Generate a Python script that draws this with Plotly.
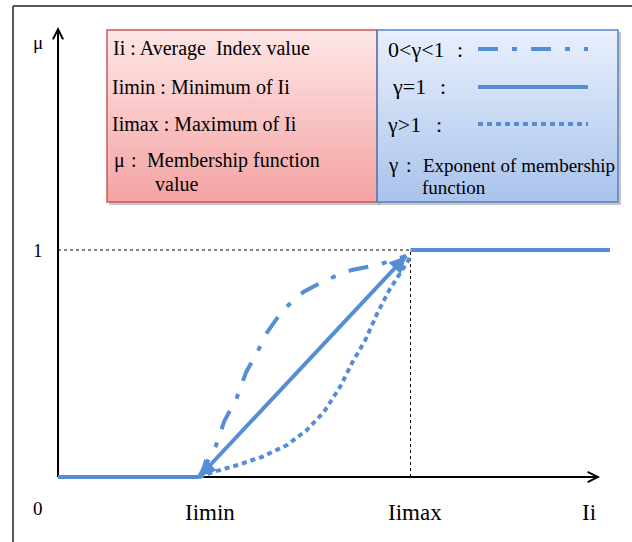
import plotly.graph_objects as go

# ---------------- data ----------------
I_low = [0.0, 2.0]
mu_low = [0.0, 0.0]

I_high = [5.0, 7.83]
mu_high = [1.0, 1.0]

I_linear = [2.0, 4.94]            # gamma = 1
mu_linear = [0.0, 0.974]

I_concave = [2.0, 2.24, 2.36, 2.53, 2.67, 2.82, 2.97, 3.19, 3.48, 3.80, 4.17, 4.53, 4.94]   # 0<gamma<1
mu_concave = [0.0, 0.137, 0.247, 0.344, 0.463, 0.546, 0.639, 0.736, 0.815, 0.868, 0.912, 0.934, 0.974]

I_convex = [2.0, 2.20, 2.55, 2.89, 3.25, 3.53, 3.77, 4.00, 4.17, 4.36, 4.53, 4.70, 4.91, 4.99]  # gamma>1
mu_convex = [0.0, 0.022, 0.053, 0.088, 0.141, 0.207, 0.286, 0.396, 0.502, 0.604, 0.722, 0.824, 0.925, 0.965]

I_min, I_max = 2.0, 5.0
x_tick_vals = [2.0, 5.0, 7.68]
x_tick_text = ["Iimin", "Iimax", "Ii"]
y_tick_vals = [1.0]
y_tick_text = ["1"]

# ---------------- layout geometry ----------------
W, H = 632, 542
OX, OY = 58, 477          # pixel position of the origin
PXI, PXM = 70.5, 227.0    # pixels per unit along I and mu
X0, X1 = -OX / PXI, (W - OX) / PXI
Y0, Y1 = -(H - OY) / PXM, OY / PXM

def dx(px):
    return X0 + px / PXI

def dy(py):
    return (OY - py) / PXM

def pxp(px):
    return px / W

def pyp(py):
    return 1 - py / H

BLUE = "#558ED5"
FONT = "Liberation Serif"

fig = go.Figure()

# ---------------- info boxes (gradient) ----------------
boxes = [
    dict(x0=107, x1=377, y0=30, y1=202, top="#fde6e6", bottom="#f5a3a3", border="#c9585a"),
    dict(x0=377, x1=618, y0=30, y1=202, top="#e9f0fd", bottom="#a9c3ec", border="#5584c4"),
]
shapes = []
for b in boxes:
    shapes.append(dict(type="rect", xref="paper", yref="paper",
                       x0=pxp(b["x0"] + 2), x1=pxp(b["x1"] + 3),
                       y0=pyp(b["y0"] + 2), y1=pyp(b["y1"] + 3),
                       fillcolor="rgba(0,0,0,0.22)", line=dict(width=0), layer="below"))
    xs = [dx(b["x0"]), dx(b["x1"]), dx(b["x1"]), dx(b["x0"]), dx(b["x0"])]
    ys = [dy(b["y0"]), dy(b["y0"]), dy(b["y1"]), dy(b["y1"]), dy(b["y0"])]
    fig.add_trace(go.Scatter(x=xs, y=ys, mode="lines", fill="toself",
                             line=dict(width=0, color=b["border"]),
                             fillgradient=dict(type="vertical",
                                               colorscale=[[0, b["bottom"]], [1, b["top"]]]),
                             hoverinfo="skip"))
    shapes.append(dict(type="rect", xref="paper", yref="paper",
                       x0=pxp(b["x0"]), x1=pxp(b["x1"]), y0=pyp(b["y0"]), y1=pyp(b["y1"]),
                       line=dict(color=b["border"], width=1.5), layer="above"))

# ---------------- membership curves ----------------
fig.add_trace(go.Scatter(x=I_low, y=mu_low, mode="lines", line=dict(color=BLUE, width=4), hoverinfo="skip"))
fig.add_trace(go.Scatter(x=I_high, y=mu_high, mode="lines", line=dict(color=BLUE, width=4), hoverinfo="skip"))
fig.add_trace(go.Scatter(x=I_concave, y=mu_concave, mode="lines",
                         line=dict(color=BLUE, width=4, dash="20px,14px,5px,14px"), hoverinfo="skip"))
fig.add_trace(go.Scatter(x=I_convex, y=mu_convex, mode="lines",
                         line=dict(color=BLUE, width=4, dash="5px,4px"), hoverinfo="skip"))
fig.add_trace(go.Scatter(x=I_linear, y=mu_linear, mode="lines", line=dict(color=BLUE, width=4), hoverinfo="skip"))

# ---------------- axes & reference lines ----------------
ytip, xtip = dy(27), dx(600)
shapes += [
    dict(type="line", xref="x", yref="y", x0=0, y0=0, x1=0, y1=ytip - 0.01,
         line=dict(color="black", width=2), layer="below"),
    dict(type="line", xref="x", yref="y", x0=0, y0=0, x1=xtip - 0.02, y1=0,
         line=dict(color="black", width=2), layer="below"),
    dict(type="line", xref="x", yref="y", x0=0, y0=1, x1=I_max, y1=1,
         line=dict(color="black", width=1, dash="dot"), layer="below"),
    dict(type="line", xref="x", yref="y", x0=I_max, y0=0, x1=I_max, y1=1,
         line=dict(color="black", width=1, dash="dot"), layer="below"),
    # frame
    dict(type="line", xref="paper", yref="paper", x0=pxp(13), y0=pyp(6), x1=pxp(13), y1=0,
         line=dict(color="#5a5a5a", width=2)),
    dict(type="line", xref="paper", yref="paper", x0=pxp(13), y0=pyp(6), x1=1, y1=pyp(6),
         line=dict(color="#5a5a5a", width=2)),
]

# legend line samples
samples = [(49, "20px,14px,5px,14px"), (87, "solid"), (124, "5px,4px")]
for yy, d in samples:
    shapes.append(dict(type="line", xref="paper", yref="paper",
                       x0=pxp(478), x1=pxp(588), y0=pyp(yy), y1=pyp(yy),
                       line=dict(color=BLUE, width=4, dash=d)))

annotations = []
# axis arrow heads
annotations.append(dict(x=0, y=ytip, ax=0, ay=ytip - 0.06, xref="x", yref="y", axref="x", ayref="y",
                        text="", showarrow=True, arrowhead=5, arrowwidth=2, arrowsize=1.0,
                        arrowcolor="black", standoff=0))
annotations.append(dict(x=xtip, y=0, ax=xtip - 0.2, ay=0, xref="x", yref="y", axref="x", ayref="y",
                        text="", showarrow=True, arrowhead=5, arrowwidth=2, arrowsize=1.0,
                        arrowcolor="black", standoff=0))
# arrow heads at both ends of the linear curve
fx = 0.06
annotations.append(dict(x=I_linear[-1], y=mu_linear[-1],
                        ax=I_linear[-1] - fx * (I_linear[-1] - I_linear[0]),
                        ay=mu_linear[-1] - fx * (mu_linear[-1] - mu_linear[0]),
                        xref="x", yref="y", axref="x", ayref="y", text="", showarrow=True,
                        arrowhead=2, arrowwidth=4, arrowsize=0.85, arrowcolor=BLUE, standoff=0))
annotations.append(dict(x=I_linear[0], y=mu_linear[0],
                        ax=I_linear[0] + fx * (I_linear[-1] - I_linear[0]),
                        ay=mu_linear[0] + fx * (mu_linear[-1] - mu_linear[0]),
                        xref="x", yref="y", axref="x", ayref="y", text="", showarrow=True,
                        arrowhead=2, arrowwidth=4, arrowsize=0.85, arrowcolor=BLUE, standoff=0))

# tick labels
x_shifts = [11, 4, -10]
for v, t, s in zip(x_tick_vals, x_tick_text, x_shifts):
    annotations.append(dict(x=v, y=0, xref="x", yref="y", text=t, showarrow=False,
                            xanchor="center", yanchor="middle", yshift=-35, xshift=s,
                            font=dict(family=FONT, size=23, color="black")))
for v, t in zip(y_tick_vals, y_tick_text):
    annotations.append(dict(x=0, y=v, xref="x", yref="y", text=t, showarrow=False,
                            xanchor="center", yanchor="middle", xshift=-20,
                            font=dict(family=FONT, size=19, color="black")))
annotations.append(dict(x=0, y=0, xref="x", yref="y", text="0", showarrow=False,
                        xanchor="center", yanchor="middle", xshift=-20, yshift=-31,
                        font=dict(family=FONT, size=19, color="black")))
annotations.append(dict(x=0, y=ytip, xref="x", yref="y", text="μ", showarrow=False,
                        xanchor="center", yanchor="middle", xshift=-20, yshift=-15,
                        font=dict(family=FONT, size=19, color="black")))

# box texts: (text, left px, centre y px, size)
box_texts = [
    ("Ii : Average  Index value", 113, 48, 20),
    ("Iimin : Minimum of Ii", 112, 87, 20),
    ("Iimax : Maximum of Ii", 112, 124, 20),
    ("μ", 114, 160, 20), (":", 131, 160, 20), ("Membership function", 147, 160, 20),
    ("value", 155, 184, 20),
    ("0&lt;γ&lt;1", 388, 49, 22), (":", 457, 49, 22),
    ("γ=1", 392, 87, 22), (":", 440, 87, 22),
    ("γ&gt;1", 387, 125, 22), (":", 436, 125, 22),
    ("γ", 388, 165, 21), (":", 406, 165, 20), ("Exponent of membership", 423, 165, 19),
    ("function", 422, 187, 19),
]
for t, x, y, s in box_texts:
    annotations.append(dict(x=pxp(x), y=pyp(y), xref="paper", yref="paper", text=t,
                            showarrow=False, xanchor="left", yanchor="middle",
                            borderpad=0, borderwidth=0,
                            font=dict(family=FONT, size=s, color="black")))

fig.update_layout(
    width=W, height=H, margin=dict(l=0, r=0, t=0, b=0),
    paper_bgcolor="white", plot_bgcolor="white", showlegend=False,
    xaxis=dict(range=[X0, X1], visible=False, fixedrange=True),
    yaxis=dict(range=[Y0, Y1], visible=False, fixedrange=True),
    shapes=shapes, annotations=annotations,
)

fig.write_html("out.html",
               config={"displayModeBar": False, "staticPlot": True},
               post_script="document.body.style.margin='0';document.body.style.padding='0';")
